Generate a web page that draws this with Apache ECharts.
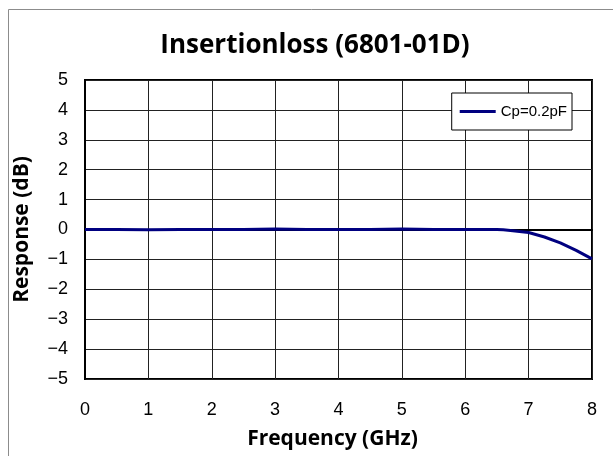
<!DOCTYPE html>
<html>
<head>
<meta charset="utf-8">
<script src="https://cdn.jsdelivr.net/npm/echarts@6/dist/echarts.min.js"></script>
<style>
  html, body { margin: 0; padding: 0; background: #fff; }
  #main { width: 613px; height: 456px; }
</style>
</head>
<body>
<div id="main"></div>
<script>
// values
var freq = [0, 0.5, 1, 1.5, 2, 2.5, 3, 3.5, 4, 4.5, 5, 5.5, 6, 6.25, 6.5, 6.6, 6.75, 7, 7.25, 7.5, 7.75, 8]
var resp = [0, 0, -0.01, 0, 0, 0, 0.02, 0, 0, 0, 0.02, 0, 0, 0, 0, -0.01, -0.04, -0.1, -0.25, -0.45, -0.7, -0.98]
var seriesName = 'Cp=0.2pF'
var titleText = 'Insertionloss (6801-01D)'

var chart = echarts.init(document.getElementById('main'))
var points = freq.map(function (f, i) { return [f, resp[i]] })
var tickFont = '"Liberation Sans", Arial, sans-serif'
var boldFont = '"Open Sans", Lato, sans-serif'

var option = {
  backgroundColor: '#fff',
  animation: false,
  title: {
    text: titleText,
    left: 310,
    textAlign: 'center',
    top: 28,
    textStyle: { fontFamily: boldFont, fontWeight: 'bold', fontSize: 26, color: '#000' }
  },
  graphic: [{
    type: 'rect',
    shape: { x: 8.5, y: 9.5, width: 700, height: 500 },
    style: { fill: null, stroke: '#8c8c8c', lineWidth: 1 },
    silent: true
  }],
  legend: {
    right: 41,
    top: 93,
    data: [seriesName],
    icon: 'rect',
    itemWidth: 36,
    itemHeight: 3,
    itemGap: 4,
    padding: [11, 5, 11, 8],
    borderColor: '#000',
    borderWidth: 1,
    backgroundColor: '#fff',
    textStyle: { fontFamily: tickFont, fontSize: 15, color: '#000', padding: [0, 0, 0, 0] }
  },
  grid: {
    left: 85, right: 21, top: 80, bottom: 77,
    show: true, borderColor: '#000', borderWidth: 2,
    containLabel: false
  },
  xAxis: {
    type: 'value',
    min: 0, max: 8, interval: 1,
    name: 'Frequency (GHz)',
    nameLocation: 'middle',
    nameGap: 50,
    nameTextStyle: { fontFamily: boldFont, fontWeight: 'bold', fontSize: 21, color: '#000', padding: [0, 12, 0, 0] },
    axisLine: { show: true, lineStyle: { color: '#000', width: 2 } },
    axisTick: { show: false },
    axisLabel: { margin: 22, fontFamily: tickFont, fontSize: 18, color: '#000' },
    splitLine: { show: true, lineStyle: { color: '#222', width: 1 } }
  },
  yAxis: {
    type: 'value',
    min: -5, max: 5, interval: 1,
    name: 'Response (dB)',
    nameLocation: 'middle',
    nameGap: 52,
    nameTextStyle: { fontFamily: boldFont, fontWeight: 'bold', fontSize: 21, color: '#000' },
    axisLine: { show: true, lineStyle: { color: '#000', width: 2 } },
    axisTick: { show: false },
    axisLabel: {
      margin: 17, fontFamily: tickFont, fontSize: 18, color: '#000',
      formatter: function (v) { return String(v).replace('-', '\u2212') }
    },
    splitLine: { show: true, lineStyle: { color: '#222', width: 1 } }
  },
  series: [{
    name: seriesName,
    type: 'line',
    data: points,
    showSymbol: false,
    symbol: 'none',
    smooth: false,
    lineStyle: { color: '#000080', width: 3 },
    itemStyle: { color: '#000080' }
  }]
}
chart.setOption(option)
</script>
</body>
</html>
